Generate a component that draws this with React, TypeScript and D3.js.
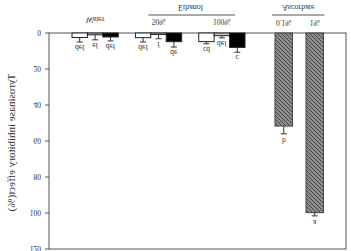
import React from "react";
import * as d3 from "d3";

// ---- data ----
const ethanolGroups = ["Water", "50%", "100%"];
const barKeys = ["c1", "c2", "c3"];
const waterValues = [2.5, 1.0, 2.2];
const waterErrors = [2.5, 2.8, 2.2];
const waterLetters = ["def", "ef", "def"];
const eth50Values = [2.6, 0.8, 4.8];
const eth50Errors = [2.4, 2.4, 3.0];
const eth50Letters = ["def", "f", "de"];
const eth100Values = [4.8, 1.5, 8.0];
const eth100Errors = [1.2, 1.2, 2.7];
const eth100Letters = ["cd", "def", "c"];
const ascCategories = ["0.1%", "1%"];
const ascValues = [51.7, 99.8];
const ascErrors = [4.3, 1.8];
const ascLetters = ["b", "a"];
const yTicks = [0, 20, 40, 60, 80, 100, 120];
const barFills = ["#ffffff", "#c4c4c4", "#000000"];
const yTitle = "Tyrosinase inhibitory effect(%)";

const W = 351;
const H = 251;
const FONT = "'Liberation Serif', 'Times New Roman', serif";
const TXT = "#333";

// Text drawn mirrored vertically (the whole reference chart is flipped top-bottom)
function FText({ x, y, size = 8, anchor = "middle", children, rotate = 0 }: any) {
  return (
    <text
      transform={`translate(${x},${y}) scale(1,-1)${rotate ? ` rotate(${rotate})` : ""}`}
      textAnchor={anchor}
      fontFamily={FONT}
      fontSize={size}
      fill={TXT}
    >
      {children}
    </text>
  );
}

export default function App() {
  const y = d3.scaleLinear().domain([0, 120]).range([33, 249]);
  const plotLeft = 49;
  const plotRight = 346;

  const xGroup = d3.scaleBand().domain(ethanolGroups).range([72, 245]).paddingInner(0.27);
  const xBar = d3.scaleBand().domain(barKeys).range([0, xGroup.bandwidth()]);
  const xAsc = d3.scaleBand().domain(ascCategories).range([275, 323.5]).paddingInner(0.435);

  const groups = [
    { name: "Water", values: waterValues, errors: waterErrors, letters: waterLetters },
    { name: "50%", values: eth50Values, errors: eth50Errors, letters: eth50Letters },
    { name: "100%", values: eth100Values, errors: eth100Errors, letters: eth100Letters },
  ];

  const errBar = (cx: number, v: number, e: number, key: string) => (
    <g key={key} stroke="#333" strokeWidth={1}>
      <line x1={cx} x2={cx} y1={y(v)} y2={y(v + e)} />
      <line x1={cx - 3} x2={cx + 3} y1={y(v + e)} y2={y(v + e)} />
    </g>
  );

  const eth = xGroup("50%")! + xGroup.bandwidth() / 2;
  const ethLineL = xGroup("50%")! + 13;
  const ethLineR = xGroup("100%")! + xGroup.bandwidth() - 10;
  const ascL = xAsc("0.1%")! - 3;
  const ascR = xAsc("1%")! + xAsc.bandwidth() + 1;

  return (
    <svg
      width={W}
      height={H}
      style={{ position: "absolute", left: 0, top: 0, background: "#fff" }}
    >
      <defs>
        <pattern id="hatch" patternUnits="userSpaceOnUse" width={4} height={4}>
          <rect width={4} height={4} fill="#8c8c8c" />
          <path d="M-1,3 l2,2 M0,0 l4,4 M3,-1 l2,2" stroke="#474747" strokeWidth={1} />
        </pattern>
      </defs>

      {/* frame */}
      <rect
        x={plotLeft}
        y={y(0)}
        width={plotRight - plotLeft}
        height={y(120) - y(0)}
        fill="none"
        stroke="#555"
        strokeWidth={1}
      />

      {/* y ticks */}
      {yTicks.map((t) => (
        <g key={t}>
          <line x1={plotLeft - 4} x2={plotLeft} y1={y(t)} y2={y(t)} stroke="#555" />
          <FText x={plotLeft - 8} y={y(t) - 3} size={7.5} anchor="end">
            {t}
          </FText>
        </g>
      ))}

      {/* y title */}
      <FText x={15} y={142.5} size={11} rotate={-90}>
        {yTitle}
      </FText>

      {/* ethanol/water bars */}
      {groups.map((g) => {
        const gx = xGroup(g.name)!;
        return (
          <g key={g.name}>
            {g.values.map((v, i) => {
              const bx = gx + xBar(barKeys[i])!;
              const bw = xBar.bandwidth();
              const cx = bx + bw / 2;
              return (
                <g key={i}>
                  <rect
                    x={bx}
                    y={y(0)}
                    width={bw}
                    height={y(v) - y(0)}
                    fill={barFills[i]}
                    stroke="#222"
                    strokeWidth={1}
                  />
                  {errBar(cx, v, g.errors[i], "e" + i)}
                  <FText x={cx} y={y(v + g.errors[i]) + 3} size={7.5}>
                    {g.letters[i]}
                  </FText>
                </g>
              );
            })}
            <FText
              x={gx + xGroup.bandwidth() / 2}
              y={g.name === "Water" ? 17 : 19}
              size={g.name === "Water" ? 8 : 7.5}
            >
              {g.name}
            </FText>
          </g>
        );
      })}

      {/* ascorbate bars */}
      {ascCategories.map((c, i) => {
        const bx = xAsc(c)!;
        const bw = xAsc.bandwidth();
        const cx = bx + bw / 2;
        return (
          <g key={c}>
            <rect
              x={bx}
              y={y(0)}
              width={bw}
              height={y(ascValues[i]) - y(0)}
              fill="url(#hatch)"
              stroke="#444"
              strokeWidth={1}
            />
            {errBar(cx, ascValues[i], ascErrors[i], "a" + i)}
            <FText x={cx} y={y(ascValues[i] + ascErrors[i]) + 4} size={7.5}>
              {ascLetters[i]}
            </FText>
            <FText x={cx} y={19.5} size={7.5}>
              {c}
            </FText>
          </g>
        );
      })}

      {/* group headers */}
      <line x1={ethLineL} x2={ethLineR} y1={15} y2={15} stroke="#555" />
      <FText x={eth + 32} y={4.5} size={8}>
        Ethanol
      </FText>
      <line x1={ascL} x2={ascR} y1={15} y2={15} stroke="#555" />
      <FText x={(ascL + ascR) / 2} y={4.5} size={8}>
        Ascorbate
      </FText>
    </svg>
  );
}
